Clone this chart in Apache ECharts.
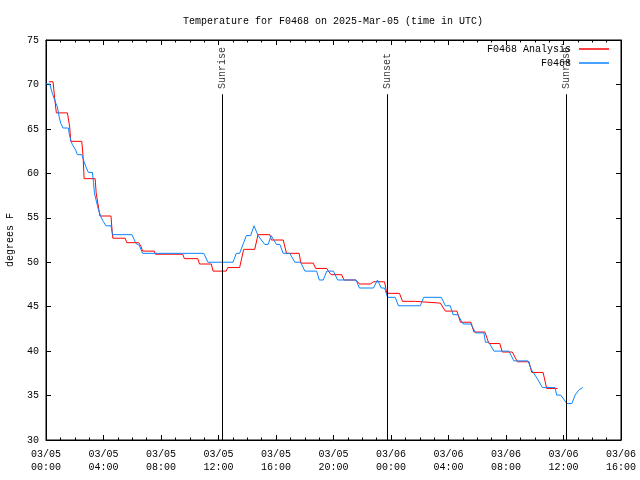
<!DOCTYPE html>
<html>
<head>
<meta charset="utf-8">
<script src="https://cdn.jsdelivr.net/npm/echarts@6/dist/echarts.min.js"></script>
<style>html,body{margin:0;padding:0;background:#fff;}#chart{width:640px;height:480px;}</style>
</head>
<body>
<div id="chart"></div>
<script>
// Hours since 03/05 00:00 UTC, temperature in degrees F
var analysisPoints = [[0.2,70.3],[0.49,70.3],[0.6,68.5],[0.72,66.8],[1.49,66.8],[1.65,65.2],[1.72,63.6],[2.49,63.6],[2.58,61.9],[2.65,59.4],[3.42,59.4],[3.49,57.8],[3.75,55.2],[4.52,55.2],[4.6,53.5],[4.65,52.7],[5.51,52.7],[5.62,52.2],[6.45,52.2],[6.6,51.8],[6.72,51.25],[7.54,51.25],[7.61,50.9],[9.51,50.9],[9.63,50.4],[10.56,50.4],[10.68,49.8],[11.5,49.8],[11.62,49.0],[12.54,49.0],[12.64,49.4],[13.47,49.4],[13.75,51.45],[14.52,51.45],[14.75,53.1],[15.57,53.1],[15.68,52.5],[16.5,52.5],[16.73,51.0],[17.61,51.0],[17.73,49.9],[18.59,49.9],[18.76,49.3],[19.53,49.3],[19.69,48.9],[19.83,48.6],[20.57,48.6],[20.73,48.0],[21.57,48.0],[21.8,47.55],[22.55,47.55],[22.78,47.8],[23.55,47.8],[23.71,46.5],[24.59,46.5],[24.8,45.6],[25.69,45.6],[25.81,45.4],[27.43,45.4],[27.78,44.5],[28.59,44.5],[28.83,43.25],[29.56,43.25],[29.77,42.15],[30.53,42.15],[30.81,40.85],[31.57,40.85],[31.74,39.9],[32.44,39.9],[32.79,38.8],[33.6,38.8],[33.79,37.6],[34.58,37.6],[34.83,35.8],[35.58,35.8]];
var observedPoints = [[0,70.05],[0.26,70.05],[0.44,69],[0.68,67.9],[0.79,67.5],[0.91,66.4],[1.03,65.6],[1.19,65.1],[1.56,65.1],[1.61,64.5],[1.72,63.75],[1.84,63.2],[2.07,62.6],[2.18,62.1],[2.49,62.1],[2.65,61.3],[2.77,60.75],[2.95,60.1],[3.23,60.1],[3.3,59],[3.37,57.8],[3.51,56.8],[3.65,55.9],[3.82,55.1],[3.98,54.6],[4.17,54.1],[4.52,54.1],[4.63,53.1],[5.98,53.1],[6.26,52.1],[6.49,51.9],[6.72,51],[10.98,51],[11.26,50],[13.01,50],[13.24,51],[13.47,51],[13.94,53],[14.24,53],[14.47,54.1],[14.75,53],[15.22,52],[15.45,52],[15.66,53],[16.03,52],[16.27,52],[16.5,51],[16.96,51],[17.31,50],[17.71,50],[18.01,49],[18.83,49],[19.01,48],[19.29,48],[19.53,49],[19.99,49],[20.29,48],[21.57,48],[21.8,47.1],[22.78,47.1],[23.06,48],[23.32,47.1],[23.55,47.1],[23.76,46.05],[24.29,46.05],[24.52,45.1],[26.04,45.1],[26.27,46.05],[27.5,46.05],[27.78,45.1],[28.12,45.1],[28.32,44.1],[28.64,44.1],[29.02,43.05],[29.56,43.05],[29.88,42.05],[30.46,42.05],[30.57,41],[30.8,41],[31.16,40],[32.2,40],[32.55,38.9],[33.53,38.9],[33.77,37.9],[34.18,36.9],[34.53,35.9],[35.41,35.9],[35.53,35.05],[35.81,35.05],[36.23,34.1],[36.58,34.1],[36.81,35.05],[37.05,35.6],[37.33,35.9]];
var sunTimes = [12.26, 23.74, 36.22];
var sunLabels = ['Sunrise', 'Sunset', 'Sunrise'];
var sunLineTop = 68.9;
var sunLabelBase = 69.5;
var dayLabels = ['03/05', '03/06'];
var seriesNames = ['F0468 Analysis', 'F0468'];

var FONT = 'Liberation Mono';
function xLabel(h) {
  var d = Math.floor(h / 24);
  var hh = h - d * 24;
  return dayLabels[Math.min(d, dayLabels.length - 1)] + '\n' + (hh < 10 ? '0' : '') + hh + ':00';
}

var chart = echarts.init(document.getElementById('chart'), null, {renderer: 'canvas'});
var sunMarkData = sunTimes.map(function (t) {
  return [{coord: [t, 30]}, {coord: [t, sunLineTop]}];
});
var sunLabelData = sunTimes.map(function (t, i) { return {value: [t, sunLabelBase], name: sunLabels[i]}; });

var tickCommon = {show: true, inside: true, length: 5, lineStyle: {color: '#000', width: 1}};
chart.setOption({
  animation: false,
  textStyle: {fontFamily: FONT},
  title: {
    text: 'Temperature for F0468 on 2025-Mar-05 (time in UTC)',
    left: 328, textAlign: 'center', top: 11,
    textStyle: {fontFamily: FONT, fontSize: 10, fontWeight: 'normal', color: '#000'}
  },
  legend: {
    data: seriesNames,
    orient: 'vertical',
    right: 26, top: 38,
    align: 'right',
    icon: 'rect',
    itemWidth: 30, itemHeight: 1.5, itemGap: 2,
    textStyle: {fontFamily: FONT, fontSize: 10, color: '#000', lineHeight: 12, padding: [0, 3, 0, 0]}
  },
  grid: {left: 46, right: 19, top: 40, bottom: 40, outerBoundsMode: 'none', containLabel: false, show: true, borderColor: '#000', borderWidth: 1, backgroundColor: 'transparent'},
  xAxis: [{
    type: 'value', min: 0, max: 40, interval: 4, position: 'bottom',
    axisLine: {show: true, onZero: false, lineStyle: {color: '#000'}},
    axisTick: tickCommon,
    minorTick: {show: true, splitNumber: 4, length: 2.5, lineStyle: {color: '#000'}},
    splitLine: {show: false}, minorSplitLine: {show: false},
    axisLabel: {formatter: xLabel, color: '#000', fontFamily: FONT, fontSize: 10, lineHeight: 13, margin: 8}
  }, {
    type: 'value', min: 0, max: 40, interval: 4, position: 'top',
    axisLine: {show: true, onZero: false, lineStyle: {color: '#000'}},
    axisTick: tickCommon,
    minorTick: {show: true, splitNumber: 4, length: 2.5, lineStyle: {color: '#000'}},
    splitLine: {show: false},
    axisLabel: {show: false}
  }],
  yAxis: [{
    type: 'value', min: 30, max: 75, interval: 5, position: 'left',
    name: 'degrees F', nameLocation: 'middle', nameGap: 31, nameRotate: 90,
    nameTextStyle: {fontFamily: FONT, fontSize: 10, color: '#000'},
    axisLine: {show: true, onZero: false, lineStyle: {color: '#000'}},
    axisTick: tickCommon,
    splitLine: {show: false},
    axisLabel: {color: '#000', fontFamily: FONT, fontSize: 10, margin: 7}
  }, {
    type: 'value', min: 30, max: 75, interval: 5, position: 'right',
    axisLine: {show: true, onZero: false, lineStyle: {color: '#000'}},
    axisTick: tickCommon,
    splitLine: {show: false},
    axisLabel: {show: false}
  }],
  series: [{
    name: seriesNames[0], type: 'line', data: analysisPoints,
    symbol: 'none', color: '#ff0000', lineStyle: {color: '#ff0000', width: 1}, z: 3
  }, {
    name: seriesNames[1], type: 'line', data: observedPoints,
    symbol: 'none', color: '#0a84ff', lineStyle: {color: '#0a84ff', width: 1}, z: 4
  }, {
    name: 'sun', type: 'scatter', data: sunLabelData, symbolSize: 0, silent: true, z: 2,
    label: {
      show: true, position: 'inside', rotate: 90, align: 'left', verticalAlign: 'middle',
      formatter: function (p) { return p.name; },
      fontFamily: FONT, fontSize: 10, color: '#000'
    },
    markLine: {
      silent: true, symbol: ['none', 'none'], animation: false,
      label: {show: false},
      lineStyle: {color: '#000', width: 1, type: 'solid'},
      emphasis: {disabled: true},
      data: sunMarkData
    }
  }]
});
</script>
</body>
</html>
